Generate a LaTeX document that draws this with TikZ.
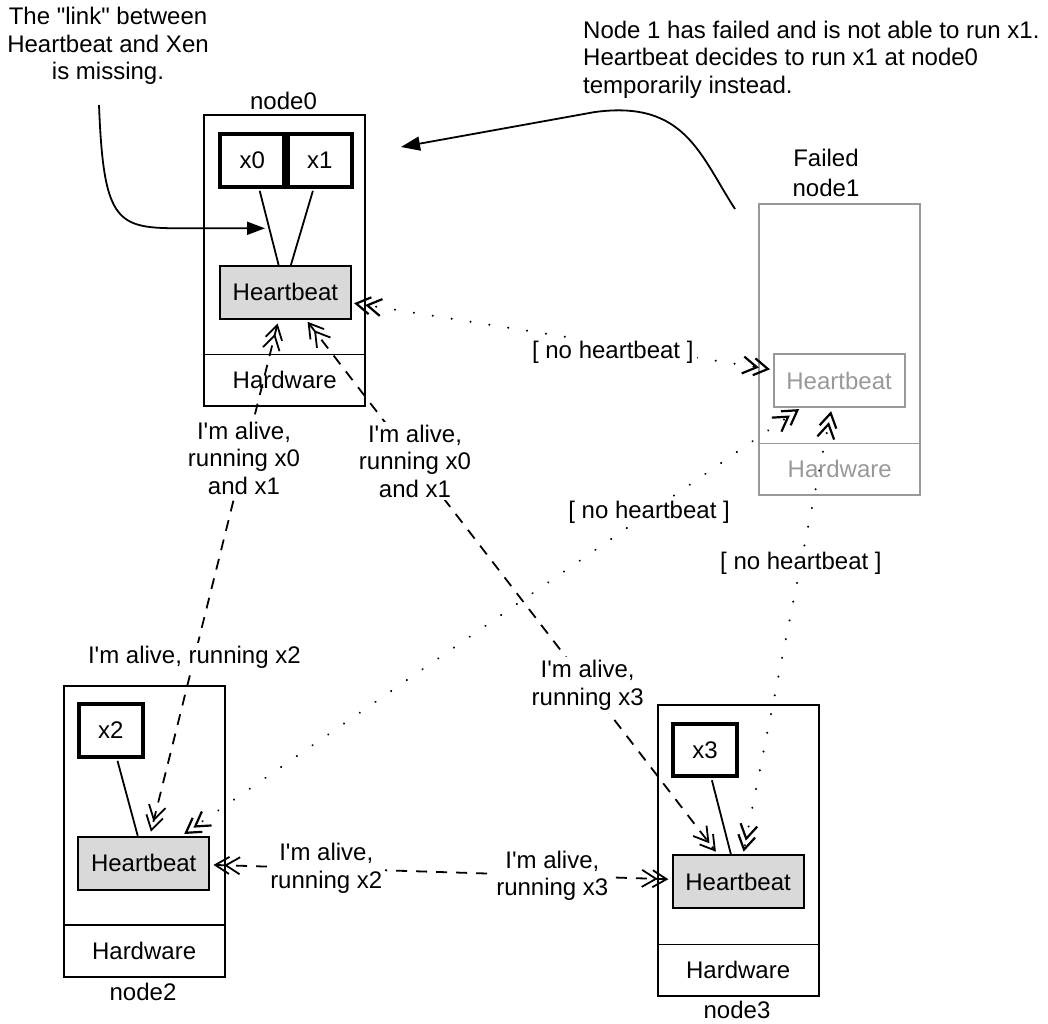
\documentclass[tikz,border=0pt]{standalone}
\usepackage{fontspec}
\setmainfont{Liberation Sans}[Ligatures=TeXOff]
\usetikzlibrary{arrows.meta,calc}

\definecolor{hbgray}{RGB}{217,217,217}
\definecolor{failgray}{RGB}{153,153,153}

\tikzset{
  dbl/.tip={Straight Barb[length=14pt,width=17pt,sep=-6pt]Straight Barb[length=14pt,width=17pt]},
}

\begin{document}
\begin{tikzpicture}[x=1pt,y=-1pt,
  every node/.style={font=\fontsize{24}{27.5}\selectfont, inner sep=0pt},
  machine/.style={draw, line width=1.8pt, minimum width=161pt, minimum height=291pt, anchor=north west},
  hwbox/.style={draw, line width=1.8pt, minimum width=161pt, minimum height=51.7pt, anchor=south},
  hbbox/.style={draw, line width=1.8pt, fill=hbgray, minimum width=131pt, minimum height=53pt, anchor=north west},
  vmbox/.style={draw, line width=4pt, minimum width=64pt, minimum height=52.5pt, anchor=north west},
  failed/.style={draw=failgray, text=failgray},
  lbl/.style={fill=white, inner sep=3pt, align=center},
  dotline/.style={line width=2.2pt, dash pattern=on 0.1pt off 19pt, line cap=round},
  dashline/.style={line width=1.8pt, dash pattern=on 11pt off 9pt},
  vmlink/.style={line width=1.8pt},
  note/.style={line width=1.8pt},
]
\path[use as bounding box] (0,0) rectangle (1048,1023);

% node0
\node[machine] (n0) at (203.3,114.3) {};
\node[hwbox] (hw0) at (n0.south) {Hardware};
\node[vmbox] (x0) at (218.3,132.3) {x0};
\node[vmbox] (x1) at (285.7,132.3) {x1};
\node[hbbox] (hb0) at (219,265) {Heartbeat};
\node (t0) at (283.5,101) {node0};

% node1 (failed)
\node[machine, failed] (n1) at (758.3,203.3) {};
\node[hwbox, failed] (hw1) at (n1.south) {Hardware};
\node[hbbox, failed, fill=white] (hb1) at (772.7,353.3) {Heartbeat};
\node[align=center] (t1) at (826,173) {Failed\\[2.5pt]node1};

% node2
\node[machine] (n2) at (62.7,685) {};
\node[hwbox] (hw2) at (n2.south) {Hardware};
\node[vmbox] (x2) at (76.7,702.3) {x2};
\node[hbbox] (hb2) at (77.3,835.7) {Heartbeat};
\node (t2) at (143,992) {node2};

% node3
\node[machine] (n3) at (656.7,704.3) {};
\node[hwbox] (hw3) at (n3.south) {Hardware};
\node[vmbox] (x3) at (671,721.7) {x3};
\node[hbbox] (hb3) at (671.7,854.3) {Heartbeat};
\node (t3) at (737,1010) {node3};

% guests attached to the local heartbeat
\draw[vmlink] ($(x0.south)+(7.4,2)$) -- ($(hb0.north)+(-6.8,0)$);
\draw[vmlink] ($(x1.south)+(-6.8,2)$) -- ($(hb0.north)+(5.5,0)$);
\draw[vmlink] ($(x2.south)+(6.8,2)$) -- ($(hb2.north)+(-6,0)$);
\draw[vmlink] ($(x3.south)+(6.9,2)$) -- ($(hb3.north)+(-7.2,0)$);

% annotations
\node[align=center] (note0) at (108,46) {The "link" between\\Heartbeat and Xen\\is missing.};
\node[align=left, anchor=west] (note1) at (583,59.5) {Node 1 has failed and is not able to run x1.\\Heartbeat decides to run x1 at node0\\temporarily instead.};
\coordinate (a0) at (99,105);
\coordinate (a0e) at (265,228.3);
\coordinate (a1) at (735,209);
\coordinate (a1e) at (401,147);
\draw[note, -{Triangle[length=18pt,width=13pt]}] (a0) .. controls (104,235) and (120,228) .. (200,228.3) -- (a0e);
\draw[note, -{Triangle[length=19pt,width=14pt]}] (a1) .. controls (700,155) and (685,100) .. (595,112) -- (a1e);

% missing heartbeats towards node1
\draw[dotline, dbl-dbl] ($(hb0.east)+(2.3,10.8)$) -- node[lbl, pos=0.622, yshift=-8pt] {[ no heartbeat ]} ($(hb1.west)+(-2.7,-11.4)$);
\draw[dotline, dbl-dbl] ($(hb2.north)+(40.5,-1.7)$) -- node[lbl, pos=0.756] {[ no heartbeat ]} ($(hb1.south)+(-40,1)$);
\draw[dotline, dbl-dbl] ($(hb1.south)+(-8,3)$) -- node[lbl, pos=0.345] {[ no heartbeat ]} ($(hb3.north)+(5.5,-2.6)$);

% heartbeats between live nodes
\draw[dashline, dbl-dbl] ($(hb0.south)+(-7.8,3.7)$) --
  node[lbl, pos=0.265] {I'm alive,\\running x0\\and x1}
  node[lbl, pos=0.657] {I'm alive, running x2} ($(hb2.north)+(7.2,-4)$);
\draw[dashline, dbl-dbl] ($(hb0.south)+(22.2,2)$) --
  node[lbl, pos=0.263] {I'm alive,\\running x0\\and x1}
  node[lbl, pos=0.686] {I'm alive,\\running x3} ($(hb3.north)+(-22.2,-2.6)$);
\draw[dashline, dbl-dbl] ($(hb2.east)+(3.4,1.8)$) --
  node[lbl, pos=0.248] {I'm alive,\\running x2}
  node[lbl, pos=0.745] {I'm alive,\\running x3} ($(hb3.west)+(-3.4,-2.5)$);
\end{tikzpicture}
\end{document}
